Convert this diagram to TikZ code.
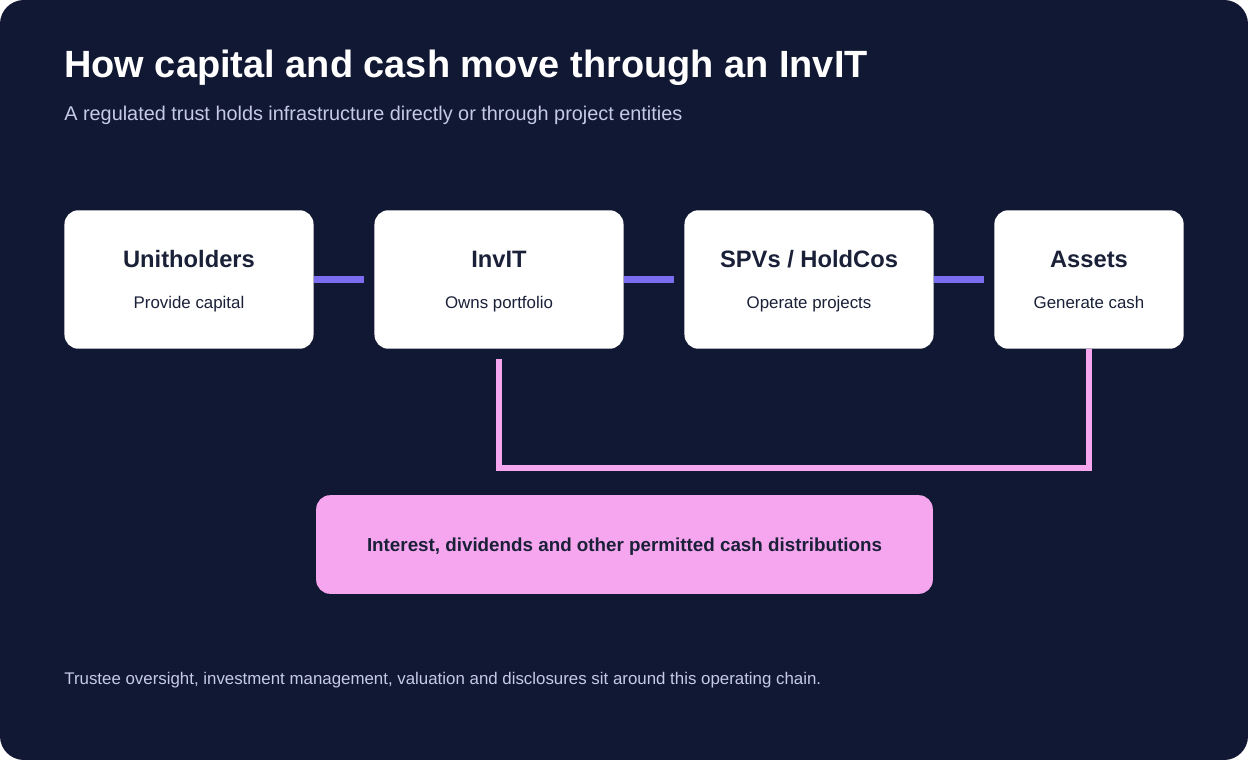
\documentclass[tikz,border=0pt]{standalone}
\usepackage{fontspec}
\setmainfont{Liberation Sans}
\usetikzlibrary{positioning}
\definecolor{navy}{HTML}{111833}
\definecolor{flow}{HTML}{7B6CF0}
\definecolor{cash}{HTML}{F5A6EE}
\definecolor{ink}{HTML}{1A2038}
\definecolor{muted}{HTML}{C5CAE6}
\tikzset{
  stage/.style={fill=white,rounded corners=14pt*0.567,minimum height=139*0.567pt,align=center,inner sep=0pt},
  capital/.style={draw=flow,line width=8*0.567pt},
  payout/.style={draw=cash,line width=6*0.567pt}
}
\newcommand{\stagetext}[2]{{\fontsize{13.5}{16}\selectfont\bfseries\rule{0pt}{12pt}#1\rule[-3pt]{0pt}{3pt}}\\[11pt]{\fontsize{9.6}{11}\selectfont\rule{0pt}{7pt}#2\rule[-2.2pt]{0pt}{2.2pt}}}
\begin{document}
\begin{tikzpicture}[x=0.02cm,y=-0.02cm,text=ink]
        \useasboundingbox (0,0) rectangle (1248,760);
        \fill[white] (0,0) rectangle (1248,760);
        \fill[navy,rounded corners=24*0.567pt] (0,0) rectangle (1248,760);
        % Heading
        \node[anchor=west,inner sep=0pt,text=white,font=\fontsize{21.6}{25}\selectfont\bfseries] (title) at (64,68) {How capital and cash move through an InvIT};
        \node[anchor=west,inner sep=0pt,text=muted,font=\fontsize{11.3}{13}\selectfont] (sub) at (64,115) {A regulated trust holds infrastructure directly or through project entities};
        % Chain of stages
        \node[stage,minimum width=250*0.567pt] (unit) at (189,279.5) {\stagetext{Unitholders}{Provide capital}};
        \node[stage,minimum width=250*0.567pt] (invit) at (499,279.5) {\stagetext{InvIT}{Owns portfolio}};
        \node[stage,minimum width=250*0.567pt] (spv) at (809,279.5) {\stagetext{SPVs / HoldCos}{Operate projects}};
        \node[stage,minimum width=190*0.567pt] (asset) at (1089,279.5) {\stagetext{Assets}{Generate cash}};
        \draw[capital] (unit.east) -- ([xshift=-10*0.567pt]invit.west);
        \draw[capital] (invit.east) -- ([xshift=-10*0.567pt]spv.west);
        \draw[capital] (spv.east) -- ([xshift=-10*0.567pt]asset.west);
        % Cash coming back
        \coordinate (back) at (499,468);
        \draw[payout] ([yshift=-10*0.567pt]invit.south) -- (back) -| (asset.south);
        \node[fill=cash,rounded corners=14*0.567pt,minimum width=619*0.567pt,minimum height=99*0.567pt,font=\fontsize{10.7}{12}\selectfont\bfseries] (dist) at (624.5,544.5) {\rule[-1pt]{0pt}{11pt}Interest, dividends and other permitted cash distributions};
        % Footnote
        \node[anchor=west,inner sep=0pt,text=muted,font=\fontsize{9.6}{11}\selectfont] (note) at (64,680) {Trustee oversight, investment management, valuation and disclosures sit around this operating chain.};
\end{tikzpicture}
\end{document}
